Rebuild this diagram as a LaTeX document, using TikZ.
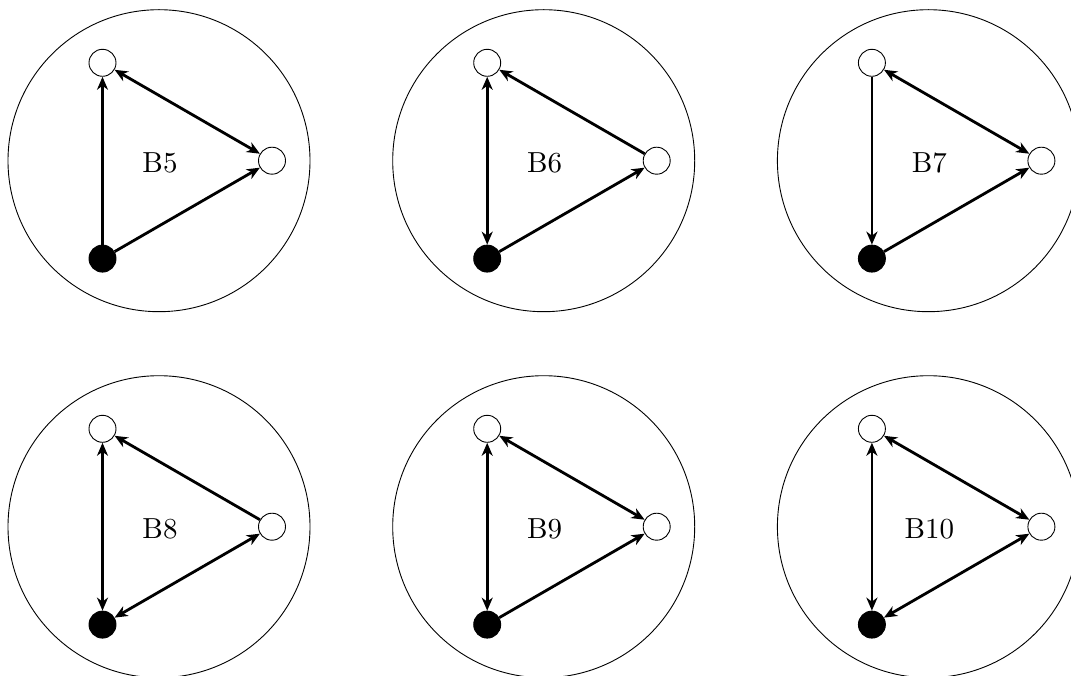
\documentclass[tikz,border=0pt]{standalone}
\usetikzlibrary{arrows.meta}
\begin{document}
\begin{tikzpicture}[x=1pt,y=-1pt,
  bigc/.style={draw, circle, line width=0.9pt, minimum size=302pt, inner sep=0pt},
  wn/.style={draw, circle, fill=white, line width=0.9pt, minimum size=27pt, inner sep=0pt},
  bn/.style={draw, circle, fill=black, line width=0.9pt, minimum size=27pt, inner sep=0pt},
  ar/.style={line width=2.8pt, >={Stealth[length=13pt,width=11pt,inset=4pt]}},
  lab/.style={scale=2.9, inner sep=0pt}]
\useasboundingbox (0,0) rectangle (1071,676);
\foreach \n/\cx/\cy/\lb in {5/159/160.7/B5, 6/543.7/160.7/B6, 7/928.4/160.7/B7, 8/159/526.7/B8, 9/543.7/526.7/B9, 10/928.4/526.7/B10}{
  \node[bigc] (c\n) at (\cx,\cy) {};
  \node[lab] (l\n) at ({\cx+1},{\cy+2}) {\lb};
  \node[wn] (t\n) at ({\cx-56.5},{\cy-97.9}) {};
  \node[wn] (r\n) at ({\cx+113},\cy) {};
  \node[bn] (b\n) at ({\cx-56.5},{\cy+97.9}) {};
}
% B5
\draw[ar,->] (b5) -- (t5);
\draw[ar,<->] (t5) -- (r5);
\draw[ar,->] (b5) -- (r5);
% B6
\draw[ar,<->] (t6) -- (b6);
\draw[ar,->] (r6) -- (t6);
\draw[ar,->] (b6) -- (r6);
% B7
\draw[ar,->] (t7) -- (b7);
\draw[ar,<->] (t7) -- (r7);
\draw[ar,->] (b7) -- (r7);
% B8
\draw[ar,<->] (t8) -- (b8);
\draw[ar,->] (r8) -- (t8);
\draw[ar,<->] (b8) -- (r8);
% B9
\draw[ar,<->] (t9) -- (b9);
\draw[ar,<->] (t9) -- (r9);
\draw[ar,->] (b9) -- (r9);
% B10
\draw[ar,<->] (t10) -- (b10);
\draw[ar,<->] (t10) -- (r10);
\draw[ar,<->] (b10) -- (r10);
\end{tikzpicture}
\end{document}
